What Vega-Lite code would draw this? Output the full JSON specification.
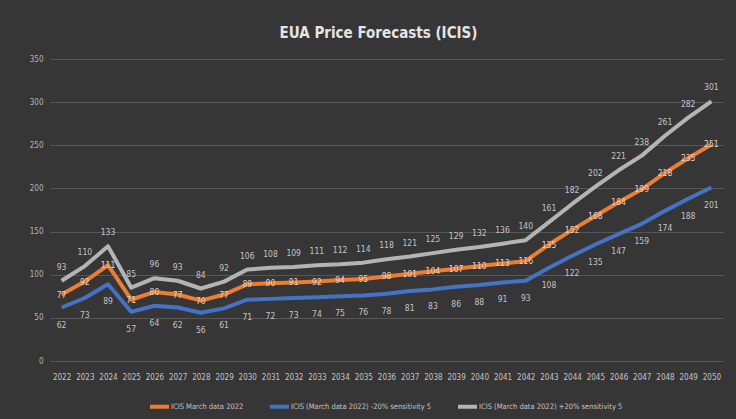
{
  "$schema": "https://vega.github.io/schema/vega-lite/v6.json",
  "autosize": {"type": "none"},
  "width": 673,
  "height": 302,
  "padding": {"left": 50, "top": 59, "right": 13, "bottom": 58},
  "background": "#363636",
  "title": {
    "text": "EUA Price Forecasts (ICIS)",
    "anchor": "middle",
    "offset": 14,
    "dx": -8,
    "fontSize": 15,
    "font": "DejaVu Sans Condensed",
    "fontWeight": "bold",
    "color": "#e4e4e4"
  },
  "data": {
    "values": [
      {"year": "2022", "ICIS March data 2022": 77, "ICIS (March data 2022) -20% sensitivity 5": 62, "ICIS (March data 2022) +20% sensitivity 5": 93},
      {"year": "2023", "ICIS March data 2022": 92, "ICIS (March data 2022) -20% sensitivity 5": 73, "ICIS (March data 2022) +20% sensitivity 5": 110},
      {"year": "2024", "ICIS March data 2022": 111, "ICIS (March data 2022) -20% sensitivity 5": 89, "ICIS (March data 2022) +20% sensitivity 5": 133},
      {"year": "2025", "ICIS March data 2022": 71, "ICIS (March data 2022) -20% sensitivity 5": 57, "ICIS (March data 2022) +20% sensitivity 5": 85},
      {"year": "2026", "ICIS March data 2022": 80, "ICIS (March data 2022) -20% sensitivity 5": 64, "ICIS (March data 2022) +20% sensitivity 5": 96},
      {"year": "2027", "ICIS March data 2022": 77, "ICIS (March data 2022) -20% sensitivity 5": 62, "ICIS (March data 2022) +20% sensitivity 5": 93},
      {"year": "2028", "ICIS March data 2022": 70, "ICIS (March data 2022) -20% sensitivity 5": 56, "ICIS (March data 2022) +20% sensitivity 5": 84},
      {"year": "2029", "ICIS March data 2022": 77, "ICIS (March data 2022) -20% sensitivity 5": 61, "ICIS (March data 2022) +20% sensitivity 5": 92},
      {"year": "2030", "ICIS March data 2022": 89, "ICIS (March data 2022) -20% sensitivity 5": 71, "ICIS (March data 2022) +20% sensitivity 5": 106},
      {"year": "2031", "ICIS March data 2022": 90, "ICIS (March data 2022) -20% sensitivity 5": 72, "ICIS (March data 2022) +20% sensitivity 5": 108},
      {"year": "2032", "ICIS March data 2022": 91, "ICIS (March data 2022) -20% sensitivity 5": 73, "ICIS (March data 2022) +20% sensitivity 5": 109},
      {"year": "2033", "ICIS March data 2022": 92, "ICIS (March data 2022) -20% sensitivity 5": 74, "ICIS (March data 2022) +20% sensitivity 5": 111},
      {"year": "2034", "ICIS March data 2022": 94, "ICIS (March data 2022) -20% sensitivity 5": 75, "ICIS (March data 2022) +20% sensitivity 5": 112},
      {"year": "2035", "ICIS March data 2022": 95, "ICIS (March data 2022) -20% sensitivity 5": 76, "ICIS (March data 2022) +20% sensitivity 5": 114},
      {"year": "2036", "ICIS March data 2022": 98, "ICIS (March data 2022) -20% sensitivity 5": 78, "ICIS (March data 2022) +20% sensitivity 5": 118},
      {"year": "2037", "ICIS March data 2022": 101, "ICIS (March data 2022) -20% sensitivity 5": 81, "ICIS (March data 2022) +20% sensitivity 5": 121},
      {"year": "2038", "ICIS March data 2022": 104, "ICIS (March data 2022) -20% sensitivity 5": 83, "ICIS (March data 2022) +20% sensitivity 5": 125},
      {"year": "2039", "ICIS March data 2022": 107, "ICIS (March data 2022) -20% sensitivity 5": 86, "ICIS (March data 2022) +20% sensitivity 5": 129},
      {"year": "2040", "ICIS March data 2022": 110, "ICIS (March data 2022) -20% sensitivity 5": 88, "ICIS (March data 2022) +20% sensitivity 5": 132},
      {"year": "2041", "ICIS March data 2022": 113, "ICIS (March data 2022) -20% sensitivity 5": 91, "ICIS (March data 2022) +20% sensitivity 5": 136},
      {"year": "2042", "ICIS March data 2022": 116, "ICIS (March data 2022) -20% sensitivity 5": 93, "ICIS (March data 2022) +20% sensitivity 5": 140},
      {"year": "2043", "ICIS March data 2022": 135, "ICIS (March data 2022) -20% sensitivity 5": 108, "ICIS (March data 2022) +20% sensitivity 5": 161},
      {"year": "2044", "ICIS March data 2022": 152, "ICIS (March data 2022) -20% sensitivity 5": 122, "ICIS (March data 2022) +20% sensitivity 5": 182},
      {"year": "2045", "ICIS March data 2022": 168, "ICIS (March data 2022) -20% sensitivity 5": 135, "ICIS (March data 2022) +20% sensitivity 5": 202},
      {"year": "2046", "ICIS March data 2022": 184, "ICIS (March data 2022) -20% sensitivity 5": 147, "ICIS (March data 2022) +20% sensitivity 5": 221},
      {"year": "2047", "ICIS March data 2022": 199, "ICIS (March data 2022) -20% sensitivity 5": 159, "ICIS (March data 2022) +20% sensitivity 5": 238},
      {"year": "2048", "ICIS March data 2022": 218, "ICIS (March data 2022) -20% sensitivity 5": 174, "ICIS (March data 2022) +20% sensitivity 5": 261},
      {"year": "2049", "ICIS March data 2022": 235, "ICIS (March data 2022) -20% sensitivity 5": 188, "ICIS (March data 2022) +20% sensitivity 5": 282},
      {"year": "2050", "ICIS March data 2022": 251, "ICIS (March data 2022) -20% sensitivity 5": 201, "ICIS (March data 2022) +20% sensitivity 5": 301}
    ]
  },
  "transform": [
    {"fold": ["ICIS March data 2022", "ICIS (March data 2022) -20% sensitivity 5", "ICIS (March data 2022) +20% sensitivity 5"], "as": ["series", "value"]}
  ],
  "encoding": {
    "x": {
      "field": "year",
      "type": "ordinal",
      "scale": {"type": "point", "padding": 0.5},
      "axis": {
        "title": null,
        "labelAngle": 0,
        "domain": false,
        "ticks": false,
        "grid": false,
        "labelPadding": 12,
        "labelFontSize": 8,
        "labelColor": "#c4c4c4",
        "labelFont": "DejaVu Sans Condensed"
      }
    },
    "y": {
      "field": "value",
      "type": "quantitative",
      "scale": {"domain": [0, 350], "nice": false},
      "axis": {
        "title": null,
        "values": [0, 50, 100, 150, 200, 250, 300, 350],
        "domain": false,
        "ticks": false,
        "grid": true,
        "gridColor": "#575757",
        "gridWidth": 1,
        "labelPadding": 7,
        "labelFontSize": 8,
        "labelColor": "#b4b4b4",
        "labelFont": "DejaVu Sans Condensed"
      }
    }
  },
  "layer": [
    {
      "mark": {"type": "line", "strokeWidth": 4, "strokeJoin": "round"},
      "encoding": {
        "color": {
          "field": "series",
          "type": "nominal",
          "scale": {
            "domain": ["ICIS March data 2022", "ICIS (March data 2022) -20% sensitivity 5", "ICIS (March data 2022) +20% sensitivity 5"],
            "range": ["#ed7d31", "#4472c4", "#b4b4b4"]
          },
          "legend": {
            "title": null,
            "orient": "none",
            "legendX": 98,
            "legendY": 336,
            "direction": "horizontal",
            "symbolType": "stroke",
            "symbolStrokeWidth": 4,
            "symbolSize": 361,
            "labelFontSize": 7.5,
            "labelColor": "#c4c4c4",
            "labelFont": "DejaVu Sans Condensed",
            "labelOffset": 0,
            "columnPadding": 18,
            "labelLimit": 300
          }
        }
      }
    },
    {
      "transform": [{"filter": "datum.series === 'ICIS (March data 2022) +20% sensitivity 5'"}],
      "mark": {"type": "text", "dy": -14, "fontSize": 8.5, "color": "#c4c4c4", "font": "DejaVu Sans Condensed"},
      "encoding": {"text": {"field": "value", "type": "quantitative"}}
    },
    {
      "transform": [{"filter": "datum.series === 'ICIS (March data 2022) -20% sensitivity 5'"}],
      "mark": {"type": "text", "dy": 17, "fontSize": 8.5, "color": "#c4c4c4", "font": "DejaVu Sans Condensed"},
      "encoding": {"text": {"field": "value", "type": "quantitative"}}
    },
    {
      "transform": [{"filter": "datum.series === 'ICIS March data 2022'"}],
      "mark": {"type": "text", "dy": 0, "fontSize": 8.5, "color": "#e6d2c4", "font": "DejaVu Sans Condensed"},
      "encoding": {"text": {"field": "value", "type": "quantitative"}}
    }
  ],
  "config": {
    "view": {"stroke": null}
  }
}
